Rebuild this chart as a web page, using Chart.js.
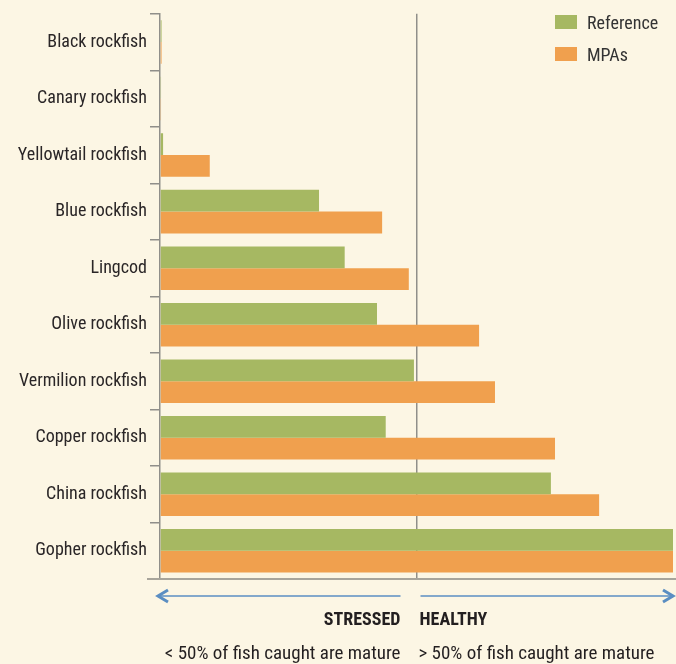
<!DOCTYPE html>
<html>
<head>
<meta charset="utf-8">
<script src="https://cdn.jsdelivr.net/npm/chart.js@4.4.0/dist/chart.umd.min.js"></script>
<style>
  html, body { margin: 0; padding: 0; background: #fcf6e4; }
  #wrap { position: relative; width: 676px; height: 664px; }
  #legend { position: absolute; left: 555px; top: 6px; font-family: "Roboto Condensed", sans-serif; font-size: 18px; color: #333; }
  #legend div { height: 32px; display: flex; align-items: center; }
  #legend span.sw { display: inline-block; width: 22px; height: 14px; margin-right: 10px; }
</style>
</head>
<body>
<div id="wrap">
  <canvas id="chart" width="676" height="664"></canvas>
  <div id="legend"></div>
</div>
<script>
const species = ["Black rockfish", "Canary rockfish", "Yellowtail rockfish", "Blue rockfish", "Lingcod",
  "Olive rockfish", "Vermilion rockfish", "Copper rockfish", "China rockfish", "Gopher rockfish"];
// proportion of fish caught that are mature
const referenceValues = [0.003, 0.002, 0.006, 0.31, 0.36, 0.423, 0.495, 0.44, 0.762, 1.0];
const mpaValues = [0.003, 0.002, 0.097, 0.433, 0.485, 0.622, 0.653, 0.77, 0.856, 1.0];
const threshold = 0.5;
const leftLabels = ["STRESSED", "< 50% of fish caught are mature"];
const rightLabels = ["HEALTHY", "> 50% of fish caught are mature"];

const green = "#a6b862";
const orange = "#f0a04e";
const axisGrey = "#a8a59b";
const midGrey = "#908f8a";
const font = '"Roboto Condensed", sans-serif';

// arrows + stressed/healthy notes under the plot
const notesPlugin = {
  id: "notes",
  afterDraw(chart) {
    const ctx = chart.ctx;
    const x = chart.scales.x;
    const area = chart.chartArea;
    const mid = x.getPixelForValue(threshold);
    ctx.save();
    // bottom line extended past the y ticks
    ctx.strokeStyle = axisGrey;
    ctx.lineWidth = 2;
    ctx.beginPath();
    ctx.moveTo(area.left - 13, area.bottom);
    ctx.lineTo(676, area.bottom);
    ctx.stroke();

    const ay = area.bottom + 17;
    ctx.strokeStyle = "#5b8ec2";
    ctx.lineWidth = 1.5;
    ctx.beginPath();
    ctx.moveTo(area.left - 2, ay);
    ctx.lineTo(mid - 16, ay);
    ctx.moveTo(mid + 4, ay);
    ctx.lineTo(area.right, ay);
    ctx.stroke();
    ctx.lineWidth = 3;
    ctx.beginPath();
    ctx.moveTo(area.left + 8, ay - 6);
    ctx.lineTo(area.left - 2, ay);
    ctx.lineTo(area.left + 8, ay + 6);
    ctx.moveTo(area.right - 10, ay - 6);
    ctx.lineTo(area.right, ay);
    ctx.lineTo(area.right - 10, ay + 6);
    ctx.stroke();

    ctx.fillStyle = "#231f20";
    ctx.textBaseline = "alphabetic";
    ctx.font = "bold 18px " + font;
    ctx.textAlign = "right";
    ctx.fillText(leftLabels[0], mid - 16, area.bottom + 46);
    ctx.textAlign = "left";
    ctx.fillText(rightLabels[0], mid + 3, area.bottom + 46);
    ctx.font = "19px " + font;
    ctx.textAlign = "right";
    ctx.fillText(leftLabels[1], mid - 16, area.bottom + 80);
    ctx.textAlign = "left";
    ctx.fillText(rightLabels[1], mid + 2, area.bottom + 80);
    ctx.restore();
  }
};

const chart = new Chart(document.getElementById("chart"), {
  type: "bar",
  data: {
    labels: species,
    datasets: [
      { label: "Reference", data: referenceValues, backgroundColor: green },
      { label: "MPAs", data: mpaValues, backgroundColor: orange }
    ]
  },
  options: {
    indexAxis: "y",
    responsive: false,
    animation: false,
    layout: { padding: { top: 9, right: 3, bottom: 85, left: 0 } },
    datasets: { bar: { categoryPercentage: 0.77, barPercentage: 1.0 } },
    plugins: { legend: { display: false }, tooltip: { enabled: false } },
    scales: {
      x: {
        min: 0,
        max: 1,
        ticks: { display: false, stepSize: 0.5 },
        grid: {
          drawTicks: false,
          lineWidth: 1.5,
          color: c => c.tick && c.tick.value === threshold ? midGrey : "rgba(0,0,0,0)"
        },
        border: { display: false },
        afterFit: s => { s.height = 0; }
      },
      y: {
        ticks: { color: "#2a2627", font: { family: font, size: 18 }, padding: 3 },
        grid: { drawOnChartArea: false, tickLength: 10, color: midGrey, lineWidth: 1.5 },
        border: { color: midGrey, width: 1.5 },
        afterFit: s => { s.width = 160; }
      }
    }
  },
  plugins: [notesPlugin]
});

// legend from the datasets
const legend = document.getElementById("legend");
chart.data.datasets.forEach(ds => {
  const row = document.createElement("div");
  const sw = document.createElement("span");
  sw.className = "sw";
  sw.style.background = ds.backgroundColor;
  row.appendChild(sw);
  row.appendChild(document.createTextNode(ds.label));
  legend.appendChild(row);
});
</script>
</body>
</html>
